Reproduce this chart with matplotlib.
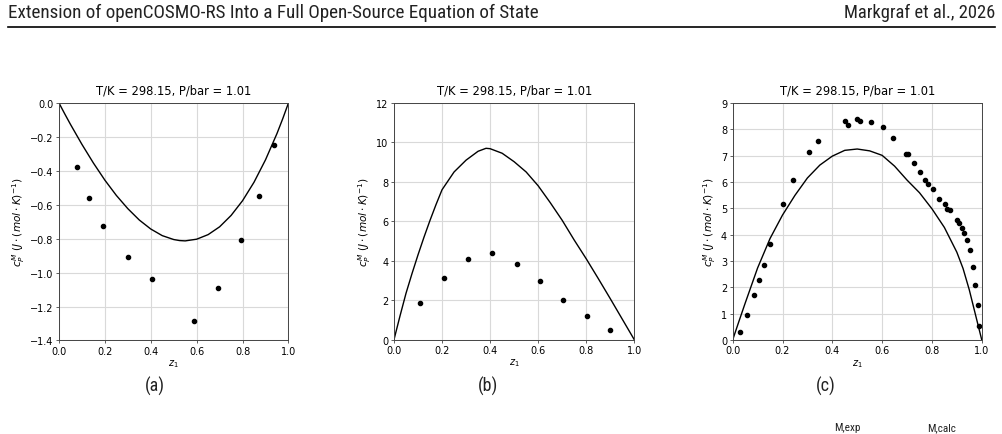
import matplotlib
matplotlib.use("Agg")
import matplotlib.pyplot as plt
from matplotlib.lines import Line2D

# --- data ---
# panel (a): experimental points
a_z_exp = [0.078, 0.132, 0.192, 0.301, 0.404, 0.589, 0.695, 0.792, 0.870, 0.937]
a_cp_exp = [-0.379, -0.562, -0.725, -0.907, -1.039, -1.286, -1.090, -0.809, -0.550, -0.246]
# panel (a): calculated curve
a_z_calc = [0.0, 0.025, 0.05, 0.1, 0.15, 0.2, 0.25, 0.3, 0.35, 0.4, 0.45, 0.5,
            0.525, 0.55, 0.6, 0.65, 0.7, 0.75, 0.8, 0.85, 0.9, 0.95, 0.975, 1.0]
a_cp_calc = [0.0, -0.064, -0.126, -0.244, -0.354, -0.455, -0.545, -0.623, -0.690, -0.743, -0.782, -0.805,
             -0.811, -0.813, -0.803, -0.776, -0.730, -0.663, -0.576, -0.467, -0.335, -0.180, -0.093, 0.0]

# panel (b)
b_z_exp = [0.109, 0.209, 0.306, 0.407, 0.510, 0.609, 0.705, 0.802, 0.899]
b_cp_exp = [1.84, 3.13, 4.07, 4.41, 3.85, 2.97, 2.03, 1.20, 0.51]
b_z_calc = [0.0, 0.025, 0.05, 0.075, 0.1, 0.125, 0.15, 0.175, 0.2, 0.25, 0.3, 0.35, 0.383,
            0.4, 0.45, 0.5, 0.55, 0.6, 0.65, 0.7, 0.75, 0.8, 0.85, 0.9, 0.95, 1.0]
b_cp_calc = [0.0, 1.2, 2.35, 3.35, 4.3, 5.2, 6.05, 6.85, 7.6, 8.5, 9.1, 9.55, 9.70,
             9.68, 9.45, 9.02, 8.5, 7.8, 6.95, 6.05, 5.05, 4.1, 3.1, 2.08, 1.04, 0.0]

# panel (c)
c_z_exp = [0.029, 0.056, 0.086, 0.104, 0.124, 0.149, 0.203, 0.241, 0.307, 0.343,
           0.450, 0.462, 0.498, 0.511, 0.556, 0.605, 0.645, 0.695, 0.703, 0.730,
           0.752, 0.772, 0.786, 0.803, 0.830, 0.853, 0.862, 0.873, 0.900, 0.909,
           0.920, 0.929, 0.940, 0.951, 0.963, 0.973, 0.984, 0.991]
c_cp_exp = [0.30, 0.93, 1.72, 2.27, 2.86, 3.65, 5.15, 6.06, 7.12, 7.54,
            8.30, 8.17, 8.38, 8.30, 8.26, 8.09, 7.68, 7.07, 7.07, 6.70,
            6.37, 6.08, 5.93, 5.73, 5.35, 5.15, 4.98, 4.92, 4.55, 4.45,
            4.25, 4.05, 3.80, 3.40, 2.78, 2.08, 1.33, 0.52]
c_z_calc = [0.0, 0.025, 0.05, 0.1, 0.15, 0.2, 0.25, 0.3, 0.35, 0.4, 0.45, 0.5,
            0.55, 0.6, 0.65, 0.7, 0.75, 0.8, 0.85, 0.9, 0.925, 0.95, 0.975, 1.0]
c_cp_calc = [0.0, 0.70, 1.39, 2.73, 3.85, 4.74, 5.49, 6.15, 6.64, 6.98, 7.20, 7.25,
             7.18, 7.01, 6.60, 6.07, 5.59, 4.98, 4.27, 3.33, 2.71, 1.90, 0.95, 0.0]

panels = [
    (a_z_exp, a_cp_exp, a_z_calc, a_cp_calc, (-1.4, 0.0), [-1.4, -1.2, -1.0, -0.8, -0.6, -0.4, -0.2, 0.0], "(a)"),
    (b_z_exp, b_cp_exp, b_z_calc, b_cp_calc, (0, 12), [0, 2, 4, 6, 8, 10, 12], "(b)"),
    (c_z_exp, c_cp_exp, c_z_calc, c_cp_calc, (0, 9), list(range(10)), "(c)"),
]
# axes boxes in figure fractions [left, bottom, width, height]
boxes = [
    [0.0588, 0.215, 0.2288, 0.546],
    [0.3928, 0.2168, 0.2396, 0.5443],
    [0.7305, 0.2165, 0.2483, 0.5445],
]
caption_x = [0.1545, 0.4865, 0.8235]

fig = plt.figure(figsize=(10.03, 4.35), dpi=100)
page_font = ["Roboto Condensed", "Roboto", "DejaVu Sans"]

fig.text(0.008, 0.970, "Extension of openCOSMO-RS Into a Full Open-Source Equation of State",
         family=page_font, fontsize=13.8, ha="left", va="center", color="#222222")
fig.text(0.992, 0.970, "Markgraf et al., 2026",
         family=page_font, fontsize=13.3, ha="right", va="center", color="#222222")
fig.add_artist(Line2D([0.008, 0.992], [0.936, 0.936], transform=fig.transFigure,
                      color="black", linewidth=1.2))

for (zx, cx, zc, cc, ylim, yt, cap), box, capx in zip(panels, boxes, caption_x):
    ax = fig.add_axes(box)
    ax.plot(zc, cc, color="black", linewidth=1.0)
    ax.plot(zx, cx, "o", color="black", markersize=3, linestyle="none")
    ax.set_xlim(0, 1)
    ax.set_ylim(*ylim)
    ax.set_xticks([0.0, 0.2, 0.4, 0.6, 0.8, 1.0])
    ax.set_yticks(yt)
    if cap == "(a)":
        ax.set_yticklabels([f"{v:.1f}".replace("-", "\u2212") for v in yt])
    ax.grid(True, color="#d9d9d9", linewidth=0.8)
    ax.set_axisbelow(True)
    ax.tick_params(labelsize=7, length=2.5, width=0.6, pad=1.5, color="#444444")
    for sp in ax.spines.values():
        sp.set_linewidth(0.7)
        sp.set_color("#444444")
    ax.set_title("T/K = 298.15, P/bar = 1.01", fontsize=8.3, pad=7)
    ax.set_xlabel("$z_1$", fontsize=7, labelpad=1)
    ax.set_ylabel(r"$c_P^M\ (J \cdot (mol \cdot K)^{-1})$", fontsize=7.6, labelpad=2)
    fig.text(capx, 0.112, cap, family=page_font, fontsize=13, ha="center", va="center",
             color="#222222")

# legend fragment at the bottom edge of the page crop
fig.text(0.8445, 0.004, "M,exp", family=page_font, fontsize=8, ha="center", va="bottom",
         color="#222222")
fig.text(0.939, 0.004, "M,calc", family=page_font, fontsize=8, ha="center", va="bottom",
         color="#222222")

fig.savefig("out.png", dpi=100)
